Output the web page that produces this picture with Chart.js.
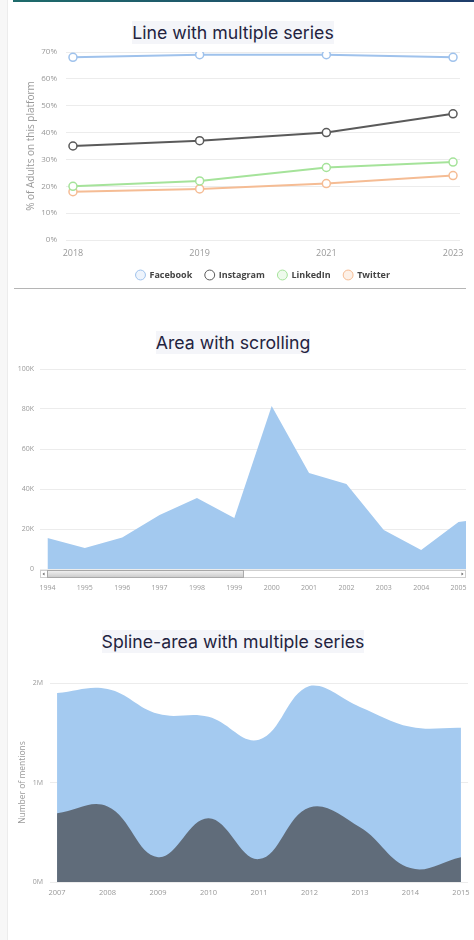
<!DOCTYPE html>
<html>
<head>
<meta charset="utf-8">
<script src="https://cdn.jsdelivr.net/npm/chart.js@4.4.1/dist/chart.umd.min.js"></script>
<style>
  body { margin: 0; background: #fff; width: 474px; height: 940px; position: relative; overflow: hidden; }
  .strip { position: absolute; left: 0; top: 0; width: 7px; height: 940px; background: #f7f7f7; border-right: 1px solid #ececec; }
  .topbar { position: absolute; left: 13px; top: 0; width: 461px; height: 2px; background: linear-gradient(90deg, #1e6b6b, #1f3d6b); }
  .title { position: absolute; left: 0; width: 466px; text-align: center; font-family: Inter, sans-serif; font-size: 17.7px; line-height: 23px; color: #23233f; }
  .title span { background: #f4f5f9; padding: 1px 0; }
  .sep { position: absolute; left: 14px; top: 288px; width: 452px; height: 1px; background: #b5b5b5; z-index: 2; }
  .box { position: absolute; left: 0; width: 474px; }
</style>
</head>
<body>
<div class="strip"></div>
<div class="topbar"></div>

<div class="title" style="top:21px"><span>Line with multiple series</span></div>
<div class="box" style="top:44px;height:252px"><canvas id="lineChart"></canvas></div>
<div class="sep"></div>

<div class="title" style="top:331px"><span>Area with scrolling</span></div>
<div class="box" style="top:360px;height:240px"><canvas id="areaChart"></canvas></div>

<div class="title" style="top:630px"><span>Spline-area with multiple series</span></div>
<div class="box" style="top:668px;height:240px"><canvas id="splineChart"></canvas></div>

<script>
// chart 1 data
const socialYears = ["2018", "2019", "2021", "2023"];
const facebook = [68, 69, 69, 68];
const instagram = [35, 37, 40, 47];
const linkedin = [20, 22, 27, 29];
const twitter = [18, 19, 21, 24];

// chart 2 data (2006 is past the scroll window)
const scrollYears = [1994, 1995, 1996, 1997, 1998, 1999, 2000, 2001, 2002, 2003, 2004, 2005, 2006];
const scrollValues = [15500, 10500, 15700, 27000, 35500, 25500, 81500, 48000, 42500, 19500, 9500, 23500, 26000];
const scrollLabelYears = [1994, 1995, 1996, 1997, 1998, 1999, 2000, 2001, 2002, 2003, 2004, 2005];

// chart 3 data
const mentionYears = [2007, 2008, 2009, 2010, 2011, 2012, 2013, 2014, 2015];
const allMentions = [1900000, 1940000, 1690000, 1660000, 1430000, 1970000, 1760000, 1560000, 1550000];
const darkMentions = [690000, 760000, 250000, 640000, 230000, 750000, 550000, 140000, 250000];

const gridColor = "#ececec";
const tickColor = "#999";
const axisFont = (size) => ({ family: "'Open Sans', sans-serif", size: size });

// fixes an axis size and drops the label overhang padding, so the layout padding decides the plot box
function fixSize(prop, size) {
  return (s) => {
    s[prop] = size;
    s.paddingTop = 0;
    s.paddingBottom = 0;
    s.paddingLeft = 0;
    s.paddingRight = 0;
  };
}

// ! line with multiple series
const lineColors = ["#9fc2ec", "#5a5a5a", "#a5e39a", "#f5bc94"];
const legendFills = ["#eef4fc", "#ffffff", "#eefaec", "#fdf1e8"];
const lineSeries = [
  { label: "Facebook", values: facebook },
  { label: "Instagram", values: instagram },
  { label: "LinkedIn", values: linkedin },
  { label: "Twitter", values: twitter },
];

new Chart(document.getElementById("lineChart"), {
  type: "line",
  data: {
    datasets: lineSeries.map((s, i) => ({
      label: s.label,
      data: s.values.map((v, j) => ({ x: j, y: v })),
      borderColor: lineColors[i],
      borderWidth: 2,
      pointRadius: 4,
      pointBorderWidth: 1.5,
      pointBackgroundColor: "#fff",
      pointBorderColor: lineColors[i],
      tension: 0,
    })),
  },
  options: {
    responsive: true,
    maintainAspectRatio: false,
    animation: false,
    layout: { padding: { top: 8, right: 14, bottom: 6.5, left: 0 } },
    plugins: {
      tooltip: { enabled: false },
      legend: {
        position: "bottom",
        fullSize: false,
        labels: {
          usePointStyle: true,
          pointStyle: "circle",
          boxHeight: 7,
          padding: 13,
          color: "#444",
          font: { family: "'Open Sans', sans-serif", size: 9, weight: "bold" },
          generateLabels(chart) {
            const items = Chart.defaults.plugins.legend.labels.generateLabels(chart);
            items.forEach((it, i) => {
              it.fillStyle = legendFills[i];
              it.lineWidth = 1;
            });
            return items;
          },
        },
      },
    },
    scales: {
      x: {
        type: "linear",
        min: -0.055,
        max: 3.055,
        afterBuildTicks: (s) => { s.ticks = socialYears.map((_, i) => ({ value: i })); },
        afterFit: fixSize("height", 17.5),
        grid: { display: false, drawTicks: false },
        border: { display: false },
        ticks: { color: tickColor, font: axisFont(9), padding: 7.6, callback: (v) => socialYears[v] },
      },
      y: {
        min: 0,
        max: 70,
        afterFit: fixSize("width", 66),
        grid: { color: gridColor, drawTicks: false },
        border: { display: false },
        ticks: { stepSize: 10, color: tickColor, font: axisFont(8), padding: 9, callback: (v) => v + "%" },
        title: {
          display: true,
          text: "% of Adults on this platform",
          color: "#999",
          font: axisFont(10),
          padding: { top: 25, bottom: 0 },
        },
      },
    },
  },
});

// ! scrollbar drawn under the area chart
const scrollbarPlugin = {
  id: "scrollbar",
  afterDraw(chart) {
    const { ctx, chartArea: a } = chart;
    const y = a.bottom + 1;
    const h = 7;
    ctx.save();
    ctx.fillStyle = "#fff";
    ctx.fillRect(a.left, y, a.right - a.left, h);
    ctx.strokeStyle = "#cfcfcf";
    ctx.lineWidth = 1;
    ctx.strokeRect(a.left + 0.5, y + 0.5, a.right - a.left - 1, h);
    // thumb
    const tx = a.left + 7;
    const tw = (a.right - a.left) * 0.46;
    const grad = ctx.createLinearGradient(0, y, 0, y + h);
    grad.addColorStop(0, "#f4f4f4");
    grad.addColorStop(1, "#cdcdcd");
    ctx.fillStyle = grad;
    ctx.fillRect(tx, y + 1, tw, h - 1);
    ctx.strokeStyle = "#a8a8a8";
    ctx.strokeRect(tx + 0.5, y + 0.5, tw, h);
    // arrows
    ctx.fillStyle = "#666";
    ctx.beginPath();
    ctx.moveTo(a.left + 2.5, y + 4);
    ctx.lineTo(a.left + 4.5, y + 2.5);
    ctx.lineTo(a.left + 4.5, y + 5.5);
    ctx.fill();
    ctx.beginPath();
    ctx.moveTo(a.right - 2.5, y + 4);
    ctx.lineTo(a.right - 4.5, y + 2.5);
    ctx.lineTo(a.right - 4.5, y + 5.5);
    ctx.fill();
    ctx.restore();
  },
};

// ! area with scrolling
new Chart(document.getElementById("areaChart"), {
  type: "line",
  data: {
    datasets: [
      {
        label: "Value",
        data: scrollYears.map((y, i) => ({ x: y, y: scrollValues[i] })),
        backgroundColor: "#a3c9ef",
        borderWidth: 0,
        pointRadius: 0,
        fill: "origin",
        tension: 0,
      },
    ],
  },
  options: {
    responsive: true,
    maintainAspectRatio: false,
    animation: false,
    layout: { padding: { top: 9, right: 8, bottom: 7, left: 0 } },
    plugins: { legend: { display: false }, tooltip: { enabled: false } },
    scales: {
      x: {
        type: "linear",
        min: 1993.8,
        max: 2005.2,
        afterBuildTicks: (s) => { s.ticks = scrollLabelYears.map((v) => ({ value: v })); },
        afterFit: fixSize("height", 24),
        grid: { display: false, drawTicks: false },
        border: { display: false },
        ticks: { color: tickColor, font: axisFont(7), padding: 15, callback: (v) => String(v) },
      },
      y: {
        min: 0,
        max: 100000,
        afterFit: fixSize("width", 40),
        grid: { color: gridColor, drawTicks: false },
        border: { display: false },
        ticks: {
          stepSize: 20000,
          color: tickColor,
          font: axisFont(7),
          padding: 6,
          callback: (v) => (v === 0 ? "0" : v / 1000 + "K"),
        },
      },
    },
  },
  plugins: [scrollbarPlugin],
});

// ! spline-area with multiple series
new Chart(document.getElementById("splineChart"), {
  type: "line",
  data: {
    datasets: [
      {
        label: "Series 2",
        data: mentionYears.map((y, i) => ({ x: y, y: darkMentions[i] })),
        backgroundColor: "#606c7a",
        borderWidth: 0,
        pointRadius: 0,
        fill: "origin",
        tension: 0.4,
      },
      {
        label: "Series 1",
        data: mentionYears.map((y, i) => ({ x: y, y: allMentions[i] })),
        backgroundColor: "#a4caf0",
        borderWidth: 0,
        pointRadius: 0,
        fill: "origin",
        tension: 0.4,
      },
    ],
  },
  options: {
    responsive: true,
    maintainAspectRatio: false,
    animation: false,
    layout: { padding: { top: 15, right: 6, bottom: 10, left: 0 } },
    plugins: { legend: { display: false }, tooltip: { enabled: false } },
    scales: {
      x: {
        type: "linear",
        min: 2006.86,
        max: 2015.14,
        afterBuildTicks: (s) => { s.ticks = mentionYears.map((v) => ({ value: v })); },
        afterFit: fixSize("height", 16),
        grid: { display: false, drawTicks: false },
        border: { display: false },
        ticks: { color: tickColor, font: axisFont(7.5), padding: 6.5, callback: (v) => String(v) },
      },
      y: {
        min: 0,
        max: 2000000,
        afterFit: fixSize("width", 50),
        grid: { color: gridColor, drawTicks: false },
        border: { display: false },
        ticks: { stepSize: 1000000, color: tickColor, font: axisFont(7), padding: 7, callback: (v) => v / 1000000 + "M" },
        title: {
          display: true,
          text: "Number of mentions",
          color: "#999",
          font: axisFont(8.5),
          padding: { top: 17, bottom: 0 },
        },
      },
    },
  },
});
</script>
</body>
</html>
